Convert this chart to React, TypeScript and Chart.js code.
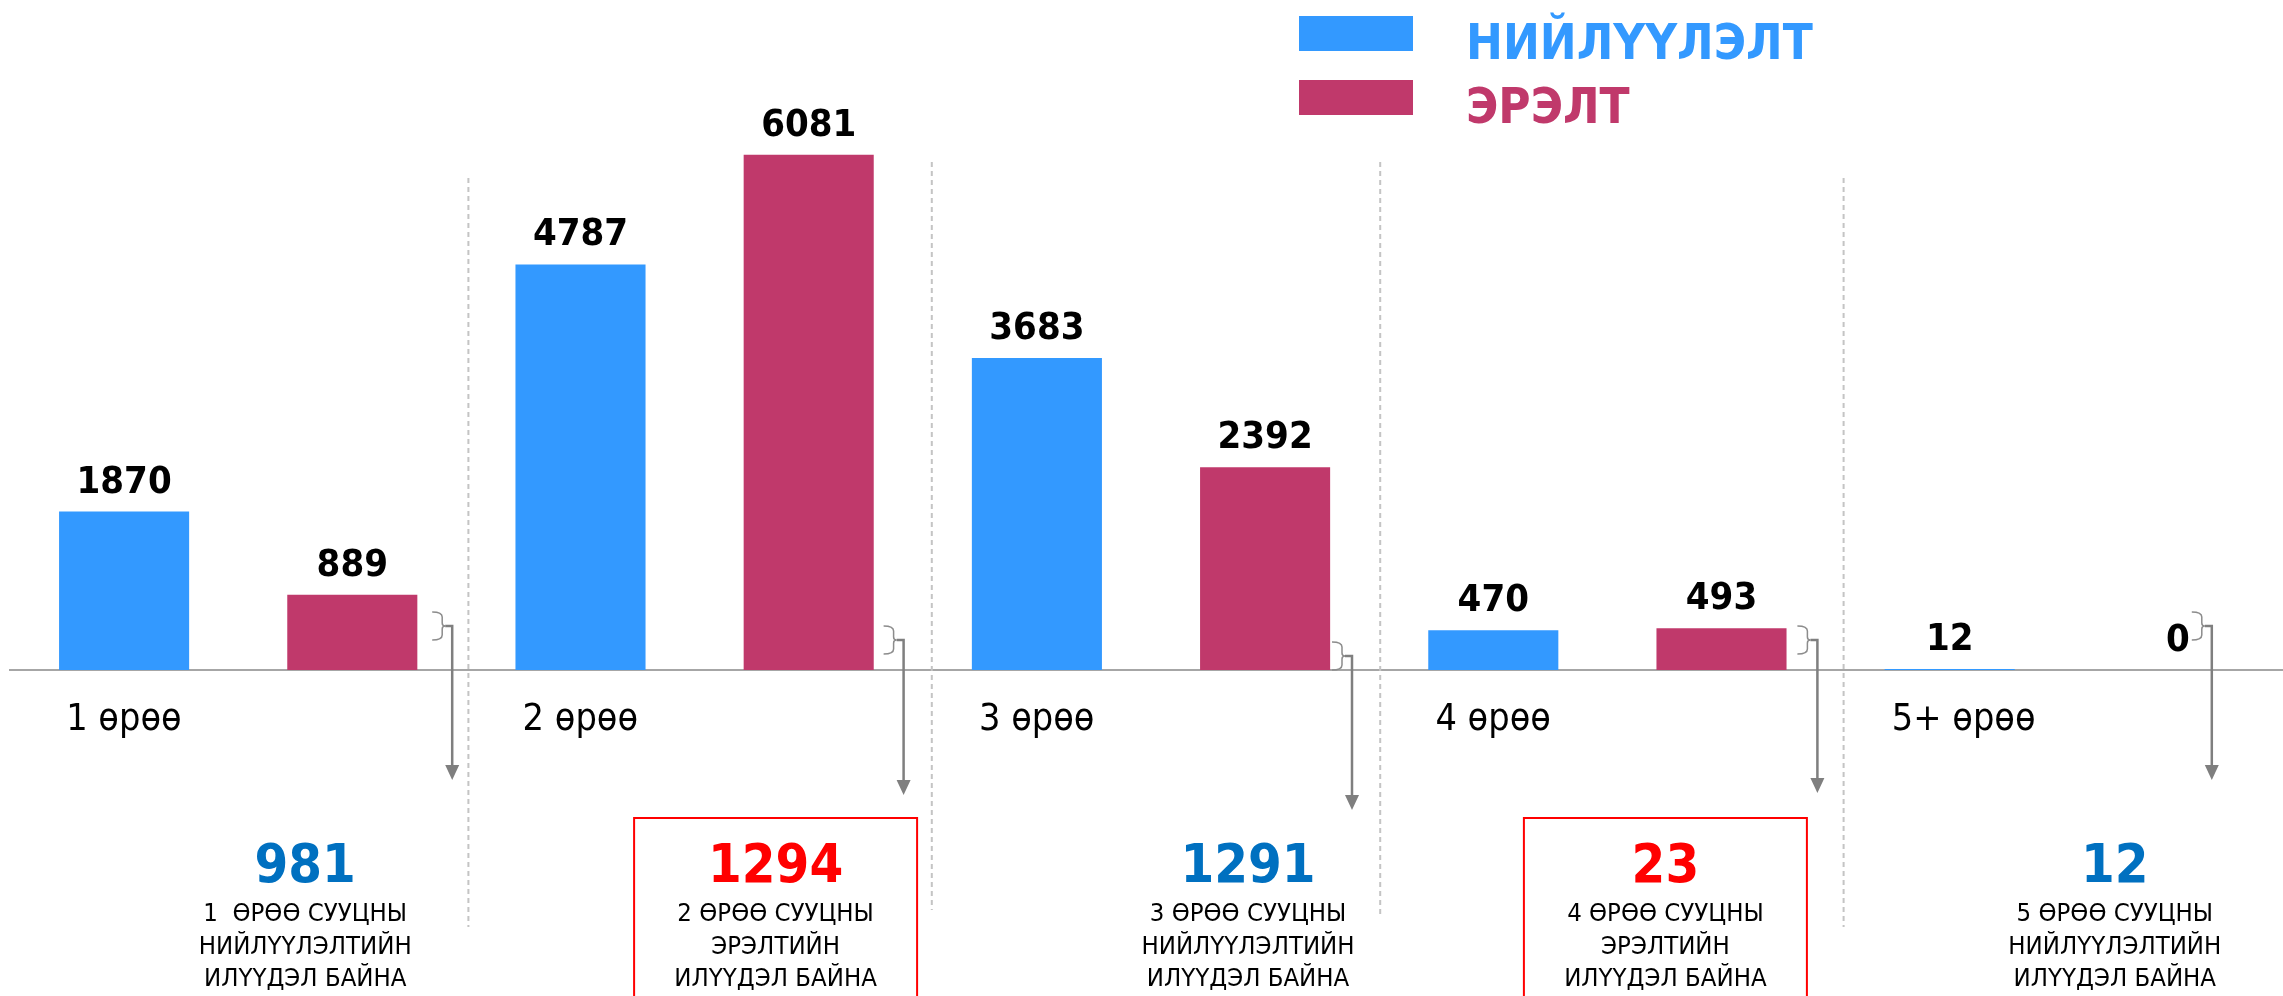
import React, { useEffect, useRef } from 'react';
import { Chart, registerables } from 'chart.js';

Chart.register(...registerables);

// ---- data ----
const categories = ['1 өрөө', '2 өрөө', '3 өрөө', '4 өрөө', '5+ өрөө'];
const supplyLabel = 'НИЙЛҮҮЛЭЛТ';
const demandLabel = 'ЭРЭЛТ';
const supplyValues = [1870, 4787, 3683, 470, 12];
const demandValues = [889, 6081, 2392, 493, 0];
const surplusValues = [981, 1294, 1291, 23, 12];
const surplusSide = ['supply', 'demand', 'supply', 'demand', 'supply'];
const noteLines = [
  ['1  ӨРӨӨ СУУЦНЫ', 'НИЙЛҮҮЛЭЛТИЙН', 'ИЛҮҮДЭЛ БАЙНА'],
  ['2 ӨРӨӨ СУУЦНЫ', 'ЭРЭЛТИЙН', 'ИЛҮҮДЭЛ БАЙНА'],
  ['3 ӨРӨӨ СУУЦНЫ', 'НИЙЛҮҮЛЭЛТИЙН', 'ИЛҮҮДЭЛ БАЙНА'],
  ['4 ӨРӨӨ СУУЦНЫ', 'ЭРЭЛТИЙН', 'ИЛҮҮДЭЛ БАЙНА'],
  ['5 ӨРӨӨ СУУЦНЫ', 'НИЙЛҮҮЛЭЛТИЙН', 'ИЛҮҮДЭЛ БАЙНА'],
];

// ---- layout / style ----
const SUPPLY = '#3399FF';
const DEMAND = '#C0396B';
const NOTE_BLUE = '#0070C0';
const NOTE_RED = '#FF0000';
const FONT = "'DejaVu Sans Condensed', 'DejaVu Sans', sans-serif";
const noteDx = [67, 81, 97, 58, 51];
const braceDx = [194, 189, 181, 190, 128];
const braceDy = [-58, -44, -28, -44, -58];
const arrowDrop = [110, 125, 140, 123, 110];
const sepDx = [2, 9, 1, 8];
const sepTop = [-492, -508, -508, -492];
const sepBottom = [257, 240, 248, 257];

const overlay = {
  id: 'overlay',
  beforeDatasetsDraw(chart: any) {
    const { ctx, scales } = chart;
    const xs = scales.x;
    const base = scales.y.getPixelForValue(0);
    ctx.save();
    ctx.strokeStyle = '#c4c4c4';
    ctx.lineWidth = 2;
    ctx.setLineDash([5, 4]);
    for (let i = 0; i < categories.length - 1; i++) {
      const bx = (xs.getPixelForValue(i) + xs.getPixelForValue(i + 1)) / 2 + sepDx[i];
      ctx.beginPath();
      ctx.moveTo(bx, base + sepTop[i]);
      ctx.lineTo(bx, base + sepBottom[i]);
      ctx.stroke();
    }
    ctx.restore();
  },
  afterDraw(chart: any) {
    const { ctx, scales } = chart;
    const xs = scales.x;
    const base = scales.y.getPixelForValue(0);
    ctx.save();

    // value labels above bars
    ctx.font = `bold 38px ${FONT}`;
    ctx.fillStyle = '#000';
    ctx.textAlign = 'center';
    ctx.textBaseline = 'alphabetic';
    chart.data.datasets.forEach((ds: any, di: number) => {
      const meta = chart.getDatasetMeta(di);
      meta.data.forEach((bar: any, i: number) => {
        ctx.fillText(String(ds.data[i]), bar.x, bar.y - 19);
      });
    });

    // braces + arrows
    for (let i = 0; i < categories.length; i++) {
      const cx = xs.getPixelForValue(i);
      const x0 = cx + braceDx[i];
      const t = base + braceDy[i];
      const h = 28;
      const m = t + h / 2;
      ctx.strokeStyle = '#8c8c8c';
      ctx.lineWidth = 1.5;
      ctx.beginPath();
      ctx.moveTo(x0, t);
      ctx.quadraticCurveTo(x0 + 10, t, x0 + 10, t + 5);
      ctx.lineTo(x0 + 10, m - 3);
      ctx.quadraticCurveTo(x0 + 10, m, x0 + 13, m);
      ctx.quadraticCurveTo(x0 + 10, m, x0 + 10, m + 3);
      ctx.lineTo(x0 + 10, t + h - 5);
      ctx.quadraticCurveTo(x0 + 10, t + h, x0, t + h);
      ctx.stroke();

      const ax = x0 + 20;
      const tip = base + arrowDrop[i];
      ctx.strokeStyle = '#7f7f7f';
      ctx.lineWidth = 2.5;
      ctx.beginPath();
      ctx.moveTo(x0 + 13, m);
      ctx.lineTo(ax, m);
      ctx.lineTo(ax, tip - 12);
      ctx.stroke();
      ctx.fillStyle = '#7f7f7f';
      ctx.beginPath();
      ctx.moveTo(ax - 7, tip - 15);
      ctx.lineTo(ax + 7, tip - 15);
      ctx.lineTo(ax, tip);
      ctx.closePath();
      ctx.fill();
    }

    // surplus notes
    for (let i = 0; i < categories.length; i++) {
      const cx = xs.getPixelForValue(i) + noteDx[i];
      const isDemand = surplusSide[i] === 'demand';
      if (isDemand) {
        ctx.strokeStyle = NOTE_RED;
        ctx.lineWidth = 2;
        ctx.strokeRect(cx - 141.5, base + 148, 283, 220);
      }
      ctx.textAlign = 'center';
      ctx.fillStyle = isDemand ? NOTE_RED : NOTE_BLUE;
      ctx.font = `bold 54px ${FONT}`;
      ctx.fillText(String(surplusValues[i]), cx, base + 212);
      ctx.fillStyle = '#000';
      ctx.font = `25.5px ${FONT}`;
      noteLines[i].forEach((ln, k) => {
        ctx.fillText(ln, cx, base + 251 + k * 32.5);
      });
    }

    // legend
    const items = chart.data.datasets.map((ds: any) => ({ label: ds.label, color: ds.backgroundColor }));
    items.forEach((it: any, k: number) => {
      const ty = 16 + k * 64;
      ctx.fillStyle = it.color;
      ctx.fillRect(1299, ty, 114, 35);
      ctx.font = `bold 49px ${FONT}`;
      ctx.textAlign = 'left';
      ctx.fillText(it.label, 1466, ty + 43);
    });

    ctx.restore();
  },
};

export default function App() {
  const ref = useRef<HTMLCanvasElement | null>(null);
  useEffect(() => {
    document.body.style.margin = '0';
    document.body.style.overflow = 'hidden';
    const canvas = ref.current!;
    const chart = new Chart(canvas, {
      type: 'bar',
      data: {
        labels: categories,
        datasets: [
          { label: supplyLabel, data: supplyValues, backgroundColor: SUPPLY, categoryPercentage: 1, barPercentage: 0.57 },
          { label: demandLabel, data: demandValues, backgroundColor: DEMAND, categoryPercentage: 1, barPercentage: 0.57 },
        ],
      },
      options: {
        responsive: false,
        animation: false,
        devicePixelRatio: 1,
        layout: { padding: { top: 77, left: 10, right: 0, bottom: 0 } },
        plugins: { legend: { display: false }, tooltip: { enabled: false }, title: { display: false } },
        scales: {
          x: {
            grid: { display: false, drawTicks: false },
            border: { display: true, color: '#a6a6a6', width: 2 },
            ticks: {
              align: 'start',
              labelOffset: -172,
              padding: 28,
              color: '#000',
              autoSkip: false,
              maxRotation: 0,
              font: { family: FONT, size: 37.5, lineHeight: 1.2 },
            },
            afterFit: (s: any) => { s.height = 326; },
          },
          y: { display: false, min: 0, max: 7000 },
        },
      },
      plugins: [overlay],
    } as any);
    return () => chart.destroy();
  }, []);
  return (
    <div style={{ position: 'absolute', left: 0, top: 0, width: 2283, height: 996, overflow: 'hidden', background: '#fff' }}>
      <canvas ref={ref} width={2292} height={996} style={{ display: 'block' }} />
    </div>
  );
}
